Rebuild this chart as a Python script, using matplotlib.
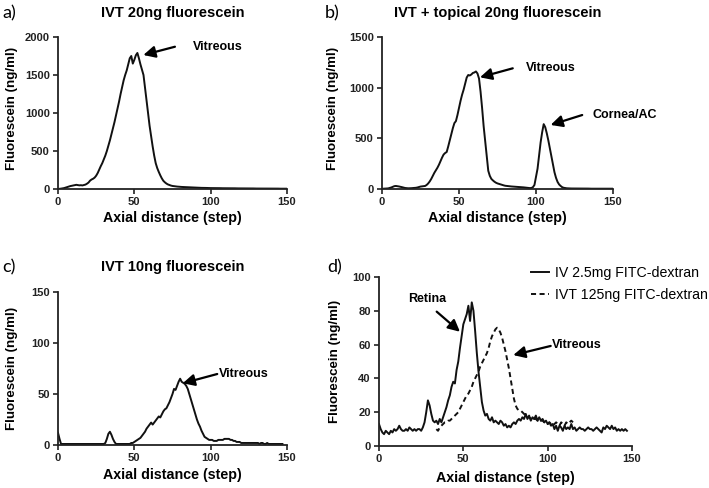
import matplotlib
matplotlib.use('Agg')
import matplotlib.pyplot as plt

plt.rcParams['font.family'] = ['Liberation Sans', 'DejaVu Sans']
plt.rcParams['font.weight'] = 'bold'

# ---------------- data ----------------
steps_a = list(range(0, 151))
vals_a = [0, 2, 5, 8, 12, 18, 25, 32, 38, 42,
          45, 50, 55, 52, 48, 50, 47, 52, 58, 70,
          85, 110, 125, 135, 150, 175, 210, 255, 300, 340,
          390, 440, 500, 570, 640, 720, 800, 880, 970, 1060,
          1150, 1250, 1340, 1430, 1500, 1560, 1640, 1720, 1750, 1650,
          1700, 1760, 1790, 1720, 1640, 1570, 1500, 1330, 1160, 980,
          830, 690, 560, 440, 340, 275, 225, 180, 140, 108,
          88, 72, 60, 52, 45, 40, 37, 34, 32, 30,
          28, 27, 26, 25, 24, 23, 22, 21, 20, 19,
          18, 17, 17, 16, 15, 15, 14, 14, 13, 13,
          12, 12, 12, 11, 11, 11, 11, 10, 10, 10,
          10, 10, 9, 9, 9, 9, 9, 8, 8, 8,
          8, 8, 8, 7, 7, 7, 7, 7, 7, 6,
          6, 6, 6, 6, 6, 6, 5, 5, 5, 5,
          5, 5, 5, 5, 5, 4, 4, 4, 4, 4, 4]

steps_b = list(range(0, 151))
vals_b = [2, 3, 4, 5, 6, 10, 15, 22, 28, 30,
          28, 25, 22, 18, 14, 10, 8, 7, 7, 8,
          9, 10, 12, 15, 20, 24, 26, 27, 30, 40,
          55, 75, 100, 130, 160, 185, 210, 240, 275, 310,
          340, 355, 365, 420, 480, 540, 600, 650, 670, 730,
          800, 870, 930, 980, 1040, 1100, 1125, 1120, 1130, 1145,
          1150, 1160, 1140, 1090, 960, 800, 620, 470, 330, 180,
          130, 100, 85, 72, 62, 55, 50, 45, 40, 36,
          32, 30, 28, 26, 25, 24, 24, 23, 22, 21,
          20, 18, 16, 14, 12, 10, 9, 10, 18, 40,
          120, 200, 330, 460, 560, 640, 610, 550, 480, 400,
          320, 240, 165, 110, 70, 45, 30, 18, 12, 9,
          7, 6, 6, 5, 5, 5, 5, 4, 4, 4,
          4, 4, 4, 4, 4, 3, 3, 3, 3, 3,
          3, 3, 3, 3, 3, 3, 3, 3, 3, 3, 3]

steps_c = list(range(0, 148))
vals_c = [12, 6, 1, 1, 1, 1, 1, 1, 1, 1,
          1, 1, 1, 1, 1, 1, 1, 1, 1, 1,
          1, 1, 1, 1, 1, 1, 1, 1, 1, 1,
          1, 2, 6, 11, 13, 10, 6, 3, 1, 1,
          1, 1, 1, 1, 1, 1, 1, 1, 2, 2,
          3, 4, 5, 6, 7, 9, 11, 13, 16, 18,
          20, 22, 20, 22, 24, 26, 28, 27, 30, 33,
          35, 36, 39, 42, 46, 50, 55, 54, 58, 62,
          65, 62, 61, 60, 58, 55, 50, 45, 40, 35,
          30, 25, 21, 18, 14, 11, 8, 7, 6, 5,
          5, 5, 4, 4, 4, 5, 5, 5, 5, 6,
          6, 6, 6, 5, 5, 4, 4, 3, 3, 3,
          2, 2, 2, 2, 2, 2, 2, 2, 2, 2,
          2, 2, 1, 2, 2, 1, 1, 2, 1, 1,
          1, 1, 1, 1, 1, 1, 1, 1]

steps_d_iv = list(range(0, 148))
vals_d_iv = [13, 10, 8, 7, 9, 8, 7, 9, 8, 10,
             9, 10, 12, 10, 9, 9, 10, 9, 11, 10,
             9, 10, 9, 10, 10, 9, 11, 14, 20, 27,
             24, 19, 15, 14, 15, 13, 16, 14, 17, 20,
             23, 27, 30, 35, 38, 37, 45, 50, 58, 65,
             72, 75, 78, 83, 74, 85, 80, 68, 55, 44,
             35, 26, 21, 18, 19, 16, 15, 17, 14, 15,
             14, 13, 15, 14, 12, 13, 11, 12, 11, 13,
             14, 13, 15, 16, 15, 17, 16, 19, 16, 18,
             15, 17, 16, 18, 15, 17, 15, 16, 14, 15,
             13, 14, 12, 13, 10, 12, 9, 12, 11, 9,
             12, 10, 11, 10, 13, 10, 11, 9, 10, 11,
             10, 10, 9, 10, 11, 10, 10, 9, 10, 11,
             10, 9, 8, 11, 10, 12, 11, 10, 12, 10,
             11, 9, 10, 9, 10, 9, 10, 9]

steps_d_ivt = list(range(34, 116))
vals_d_ivt = [10, 9, 11, 12, 13, 14, 14, 15, 15, 16,
              17, 18, 19, 20, 22, 24, 26, 28, 30, 31,
              33, 35, 38, 40, 42, 44, 47, 49, 51, 53,
              55, 58, 62, 65, 67, 69, 70, 69, 67, 64,
              60, 56, 51, 46, 40, 34, 28, 24, 22, 21,
              21, 20, 19, 18, 17, 17, 16, 17, 16, 16,
              15, 16, 15, 15, 14, 14, 13, 14, 13, 12,
              13, 14, 13, 12, 14, 13, 12, 14, 13, 14,
              15, 14]

titles = ['IVT 20ng fluorescein', 'IVT + topical 20ng fluorescein', 'IVT 10ng fluorescein']
panel_labels = ['a)', 'b)', 'c)', 'd)']
legend_labels = ['IV 2.5mg FITC-dextran', 'IVT 125ng FITC-dextran']
xticks = [0, 50, 100, 150]

# ---------------- figure ----------------
W, H = 709, 488
fig = plt.figure(figsize=(W / 100, H / 100), dpi=100)


def add_axes(l, r, b, t):
    return fig.add_axes([l / W, 1 - b / H, (r - l) / W, (b - t) / H])


axA = add_axes(58, 287, 189, 37)
axB = add_axes(382, 613, 189, 37)
axC = add_axes(58, 287, 445, 292)
axD = add_axes(379, 632, 446, 277)

LC = '#111111'


def style(ax, ylim, yticks, ylab_x, ylab_y, xlab_y):
    for s in ['top', 'right']:
        ax.spines[s].set_visible(False)
    for s in ['left', 'bottom']:
        ax.spines[s].set_linewidth(1.3)
        ax.spines[s].set_color('#222222')
    ax.set_xlim(0, 150)
    ax.set_ylim(*ylim)
    ax.set_xticks(xticks)
    ax.set_yticks(yticks)
    ax.tick_params(direction='out', length=3.5, width=1.2, labelsize=8, pad=2.5, colors='#222222')
    ax.set_ylabel('Fluorescein (ng/ml)', fontsize=9.6, fontweight='bold')
    ax.yaxis.label.set_va('center')
    ax.yaxis.set_label_coords(ylab_x, ylab_y)
    ax.set_xlabel('Axial distance (step)', fontsize=10.3, fontweight='bold')
    ax.xaxis.label.set_va('center')
    ax.xaxis.set_label_coords(0.5, xlab_y)
    ax.patch.set_alpha(0)


def arrow(ax, head, tail):
    ax.annotate('', xy=head, xytext=tail, annotation_clip=False,
                arrowprops=dict(arrowstyle='-|>,head_length=0.7,head_width=0.35',
                                color='black', lw=1.6, shrinkA=0, shrinkB=0,
                                mutation_scale=10))


# panel a
axA.plot(steps_a, vals_a, color=LC, lw=1.4)
style(axA, (0, 2000), [0, 500, 1000, 1500, 2000], -0.201, 0.53, -0.19)
arrow(axA, (55.9, 1763), (76.6, 1872))
axA.text(88.4, 1872, 'Vitreous', fontsize=9, ha='left', va='center')

# panel b
axB.plot(steps_b, vals_b, color=LC, lw=1.4)
style(axB, (0, 1500), [0, 500, 1000, 1500], -0.212, 0.53, -0.19)
arrow(axB, (63.6, 1102), (84.9, 1191))
axB.text(93.3, 1191, 'Vitreous', fontsize=9, ha='left', va='center')
arrow(axB, (109.5, 632), (130, 730))
axB.text(136.6, 730, 'Cornea/AC', fontsize=9, ha='left', va='center')

# panel c
axC.plot(steps_c, vals_c, color=LC, lw=1.4)
style(axC, (0, 150), [0, 50, 100, 150], -0.201, 0.5, -0.196)
arrow(axC, (81.7, 60.5), (104.3, 69.6))
axC.text(105.6, 69.6, 'Vitreous', fontsize=9, ha='left', va='center')

# panel d
axD.plot(steps_d_iv, vals_d_iv, color=LC, lw=1.4, label=legend_labels[0])
axD.plot(steps_d_ivt, vals_d_ivt, color=LC, lw=1.4, linestyle=(0, (2.6, 1.8)), label=legend_labels[1])
style(axD, (0, 100), [0, 20, 40, 60, 80, 100], -0.174, 0.5, -0.189)
axD.text(28.7, 87, 'Retina', fontsize=9, ha='center', va='center')
arrow(axD, (48, 67.6), (34.2, 79.5))
axD.text(102.4, 59.8, 'Vitreous', fontsize=9, ha='left', va='center')
arrow(axD, (79.6, 53.8), (101.8, 59.2))
axD.legend(loc='upper left', bbox_to_anchor=(0.60, 1.065), frameon=False,
           prop=dict(family='Liberation Sans', weight='normal', size=10.2),
           handlelength=1.25, handletextpad=0.45, labelspacing=0.55,
           borderpad=0, borderaxespad=0)

# titles and panel labels
fig.text(172.5 / W, 1 - 13 / H, titles[0], ha='center', va='center', fontsize=10.5, fontweight='bold')
fig.text(497.5 / W, 1 - 13 / H, titles[1], ha='center', va='center', fontsize=10.5, fontweight='bold')
fig.text(172.5 / W, 1 - 267 / H, titles[2], ha='center', va='center', fontsize=10.5, fontweight='bold')

plabel_pos = [(2, 13), (325, 13), (2, 267), (327, 267)]
for lab, (px, py) in zip(panel_labels, plabel_pos):
    fig.text(px / W, 1 - py / H, lab, ha='left', va='center', fontsize=13,
             fontweight='normal', family=['Lato', 'DejaVu Sans'])

fig.savefig('out.png', dpi=100)
